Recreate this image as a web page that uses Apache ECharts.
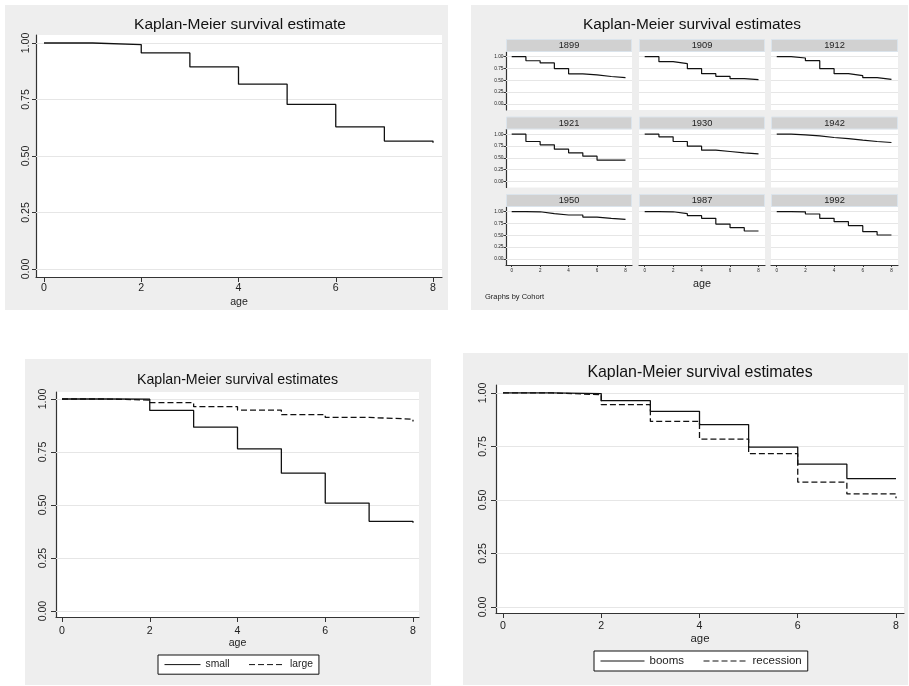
<!DOCTYPE html>
<html><head><meta charset="utf-8">
<script src="https://cdn.jsdelivr.net/npm/echarts@6/dist/echarts.min.js"></script>
<style>html,body{margin:0;padding:0;background:#fff}#c{width:909px;height:686px}</style>
</head><body><div id="c"></div>
<script>
// ---------- data ----------
const ages = [0, 1, 2, 3, 4, 5, 6, 7, 8];
const xTickValues = [0, 2, 4, 6, 8];
const yTickValues = [0, 0.25, 0.5, 0.75, 1];

const overall = [1.00, 0.993, 0.956, 0.894, 0.818, 0.728, 0.629, 0.566, 0.559];

const small = [1.00, 0.999, 0.946, 0.867, 0.765, 0.650, 0.509, 0.423, 0.416];
const large = [1.00, 0.995, 0.983, 0.964, 0.948, 0.926, 0.913, 0.905, 0.894];

const booms = [1.00, 0.997, 0.964, 0.914, 0.852, 0.747, 0.667, 0.600, 0.597];
const recession = [1.00, 0.992, 0.945, 0.867, 0.784, 0.716, 0.583, 0.528, 0.508];

const cohortNames = ['1899', '1909', '1912', '1921', '1930', '1942', '1950', '1987', '1992'];
const c1899 = [1.00, 0.914, 0.868, 0.748, 0.638, 0.616, 0.581, 0.559, 0.559];
const c1909 = [1.00, 0.894, 0.852, 0.746, 0.641, 0.585, 0.535, 0.514, 0.514];
const c1912 = [1.00, 0.972, 0.915, 0.746, 0.641, 0.599, 0.556, 0.521, 0.521];
const c1921 = [1.00, 0.845, 0.775, 0.683, 0.606, 0.535, 0.451, 0.451, 0.451];
const c1930 = [1.00, 0.944, 0.845, 0.746, 0.662, 0.634, 0.606, 0.585, 0.585];
const c1942 = [1.00, 0.986, 0.965, 0.930, 0.908, 0.873, 0.845, 0.824, 0.824];
const c1950 = [1.00, 0.998, 0.958, 0.930, 0.930, 0.887, 0.859, 0.838, 0.838];
const c1987 = [1.00, 0.998, 0.958, 0.915, 0.859, 0.739, 0.662, 0.592, 0.592];
const c1992 = [1.00, 0.998, 0.951, 0.859, 0.789, 0.704, 0.577, 0.507, 0.507];
const cohortValues = [c1899, c1909, c1912, c1921, c1930, c1942, c1950, c1987, c1992];

// ---------- helpers ----------
const FONT = '"Liberation Sans", Arial, Helvetica, sans-serif';
const AX = '#333333';
const grids = [], xAxes = [], yAxes = [], series = [];

function panel(g) {
  grids.push({left: g.l, top: g.t, width: g.w, height: g.h, show: true,
    backgroundColor: '#ffffff', borderWidth: 0, containLabel: false});
  const i = grids.length - 1;
  xAxes.push({type: 'value', gridIndex: i, min: g.xmin, max: g.xmax,
    axisLine: {show: g.showX, onZero: false, lineStyle: {color: AX, width: 1.2}},
    axisTick: {show: g.showX, customValues: xTickValues, length: g.xt, lineStyle: {color: AX, width: 1}},
    axisLabel: {show: g.showX, customValues: xTickValues, fontSize: g.xfs, margin: g.xm, color: '#222', fontFamily: FONT},
    splitLine: {show: false},
    name: g.name || '', nameLocation: 'middle', nameGap: g.nameGap || 0,
    nameTextStyle: {fontSize: g.nfs || 10.6, color: '#222', fontFamily: FONT}});
  yAxes.push({type: 'value', gridIndex: i, min: g.ymin, max: g.ymax,
    axisLine: {show: g.showY, onZero: false, lineStyle: {color: AX, width: 1.2}},
    axisTick: {show: g.showY, customValues: yTickValues, length: g.yt, lineStyle: {color: AX, width: 1}},
    axisLabel: {show: g.showY, customValues: yTickValues, rotate: g.rot, fontSize: g.yfs, margin: g.ym,
      color: '#222', fontFamily: FONT, formatter: v => Number(v).toFixed(2)},
    splitLine: {show: false}});
  // gridlines drawn at the tick values through the axis scale
  series.push({type: 'line', xAxisIndex: i, yAxisIndex: i, data: [], silent: true, z: 1,
    markLine: {silent: true, z: 1, symbol: ['none', 'none'], label: {show: false}, animation: false,
      lineStyle: {color: '#e6e6e6', width: 1, type: 'solid'},
      emphasis: {disabled: true},
      data: yTickValues.map(v => ({yAxis: v}))}});
  return i;
}
function km(idx, vals, name, dashed, w) {
  series.push({type: 'line', name: name, step: 'end', xAxisIndex: idx, yAxisIndex: idx, z: 3,
    symbol: 'none', showSymbol: false, silent: true,
    data: ages.map((a, k) => [a, vals[k]]),
    lineStyle: {color: '#111', width: w || 1.3, type: dashed ? [6, 3] : 'solid'},
    itemStyle: {color: '#111'}});
}

// ---------- panel 1 ----------
const p1 = panel({l: 36, t: 35, w: 406, h: 242, xmin: -0.1645, xmax: 8.185, ymin: -0.0354, ymax: 1.0354,
  showX: true, showY: true, xt: 5, xm: 6, xfs: 10.6, yt: 4, ym: 4.5, yfs: 10.6, rot: 90, name: 'age', nameGap: 20});
km(p1, overall, 'overall', false);

// ---------- panel 2 : small multiples ----------
const colL = [506, 639, 771];
const colW = [126, 126, 127];
const rowHead = [39, 116.5, 194];
const headerEls = [];
for (let r = 0; r < 3; r++) {
  for (let c = 0; c < 3; c++) {
    const k = r * 3 + c;
    const top = rowHead[r] + 13;
    const idx = panel({l: colL[c], t: top, w: colW[c], h: 58, xmin: -0.4, xmax: 8.457, ymin: -0.127, ymax: 1.099,
      showX: r === 2, showY: c === 0, xt: 2, xm: 3.5, xfs: 4.5, yt: 2.5, ym: 2.5, yfs: 4.8, rot: 0,
      name: (r === 2 && c === 1) ? 'age' : '', nameGap: 14, nfs: 10.8});
    km(idx, cohortValues[k], 'cohort ' + cohortNames[k], false, 1.2);
    headerEls.push({type: 'rect', shape: {x: colL[c] + 0.5, y: rowHead[r] + 0.5, width: colW[c] - 1, height: 12},
      style: {fill: '#d1d1d1', stroke: '#dbe4ec', lineWidth: 1}, z: 5});
    headerEls.push({type: 'text', x: colL[c] + colW[c] / 2, y: rowHead[r] + 6.7, z: 6,
      style: {text: cohortNames[k], fontSize: 9.3, fontFamily: FONT, fill: '#222', align: 'center', verticalAlign: 'middle'}});
  }
}

// ---------- panel 3 ----------
const p3 = panel({l: 56, t: 392, w: 363, h: 225, xmin: -0.137, xmax: 8.137, ymin: -0.028, ymax: 1.033,
  showX: true, showY: true, xt: 5, xm: 9, xfs: 10.6, yt: 5, ym: 7, yfs: 10.6, rot: 90, name: 'age', nameGap: 19.5});
km(p3, small, 'small', false);
km(p3, large, 'large', true);

// ---------- panel 4 ----------
const p4 = panel({l: 496, t: 385, w: 408, h: 228, xmin: -0.1425, xmax: 8.163, ymin: -0.028, ymax: 1.037,
  showX: true, showY: true, xt: 5, xm: 8, xfs: 10.6, yt: 5, ym: 7, yfs: 10.6, rot: 90, name: 'age', nameGap: 20, nfs: 11.4});
km(p4, booms, 'booms', false);
km(p4, recession, 'recession', true);

const titleStyle = fs => ({fontSize: fs, fontWeight: 'normal', color: '#111', fontFamily: FONT});
const legendCommon = {orient: 'horizontal', itemHeight: 14, itemGap: 19, padding: [4, 6],
  borderColor: '#111', borderWidth: 1, backgroundColor: '#fff', selectedMode: false,
  itemStyle: {opacity: 0, borderWidth: 0}, lineStyle: {width: 1}};
const option = {
  animation: false,
  backgroundColor: '#ffffff',
  title: [
    {text: 'Kaplan-Meier survival estimate', left: 240, top: 25, textAlign: 'center', textVerticalAlign: 'middle', padding: 0, textStyle: titleStyle(15.5)},
    {text: 'Kaplan-Meier survival estimates', left: 692, top: 25, textAlign: 'center', textVerticalAlign: 'middle', padding: 0, textStyle: titleStyle(15.4)},
    {text: 'Kaplan-Meier survival estimates', left: 237.5, top: 380, textAlign: 'center', textVerticalAlign: 'middle', padding: 0, textStyle: titleStyle(14.2)},
    {text: 'Kaplan-Meier survival estimates', left: 700, top: 373, textAlign: 'center', textVerticalAlign: 'middle', padding: 0, textStyle: titleStyle(15.9)}
  ],
  legend: [
    Object.assign({}, legendCommon, {data: ['small', 'large'], left: 158, top: 655, itemWidth: 36,
      textStyle: {fontSize: 10.3, fontFamily: FONT, color: '#222'}}),
    Object.assign({}, legendCommon, {data: ['booms', 'recession'], left: 594, top: 651, itemWidth: 44,
      textStyle: {fontSize: 11.5, fontFamily: FONT, color: '#222'}})
  ],
  grid: grids, xAxis: xAxes, yAxis: yAxes, series: series,
  graphic: [
    {type: 'rect', shape: {x: 5, y: 5, width: 443, height: 305}, style: {fill: '#eeeeee'}, z: -100},
    {type: 'rect', shape: {x: 471, y: 5, width: 437, height: 305}, style: {fill: '#eeeeee'}, z: -100},
    {type: 'rect', shape: {x: 25, y: 359, width: 406, height: 326}, style: {fill: '#eeeeee'}, z: -100},
    {type: 'rect', shape: {x: 463, y: 353, width: 445, height: 332}, style: {fill: '#eeeeee'}, z: -100},
    {type: 'text', x: 485, y: 297, z: 6, style: {text: 'Graphs by Cohort', fontSize: 7.5, fontFamily: FONT, fill: '#222', align: 'left', verticalAlign: 'middle'}}
  ].concat(headerEls)
};
const chart = echarts.init(document.getElementById('c'), null, {renderer: 'canvas'});
chart.setOption(option);
</script>
</body></html>
